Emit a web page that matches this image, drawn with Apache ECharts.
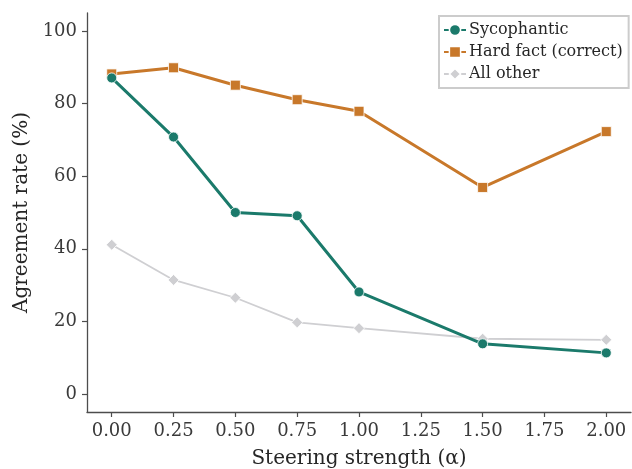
<!DOCTYPE html>
<html><head><meta charset="utf-8">
<script src="https://cdn.jsdelivr.net/npm/echarts@6/dist/echarts.min.js"></script>
<style>html,body{margin:0;padding:0;background:#fff}#c{width:632px;height:469px}</style>
</head><body><div id="c"></div>
<script>
const alphas = [0, 0.25, 0.5, 0.75, 1.0, 1.5, 2.0];
const sycophantic = [87.1, 70.8, 50.0, 49.1, 28.1, 13.8, 11.3];
const hardFact = [88.2, 89.9, 85.1, 81.1, 77.9, 56.9, 72.3];
const allOther = [41.1, 31.4, 26.5, 19.7, 18.1, 15.2, 14.9];
const xTicks = [0, 0.25, 0.5, 0.75, 1.0, 1.25, 1.5, 1.75, 2.0];
const yTicks = [0, 20, 40, 60, 80, 100];

const font = 'DejaVu Serif';
const pair = (ys) => alphas.map((a, i) => [a, ys[i]]);
const chart = echarts.init(document.getElementById('c'), null, {renderer: 'canvas'});
chart.setOption({
  animation: false,
  backgroundColor: '#fff',
  textStyle: {fontFamily: font},
  grid: {left: 87, right: 1, top: 13, bottom: 57, containLabel: false, outerBoundsMode: 'none'},
  xAxis: {
    type: 'value', min: -0.1, max: 2.1,
    name: 'Steering strength (α)', nameLocation: 'middle', nameGap: 37,
    nameTextStyle: {fontFamily: font, fontSize: 20, color: '#262626'},
    axisLine: {show: true, onZero: false, lineStyle: {color: '#4d4d4d', width: 1.3}},
    axisTick: {show: true, length: 5, customValues: xTicks, lineStyle: {color: '#4d4d4d', width: 1.2}},
    axisLabel: {customValues: xTicks, fontFamily: font, fontSize: 18, color: '#3a3a3a', margin: 10,
      formatter: v => v.toFixed(2)},
    splitLine: {show: false}
  },
  yAxis: {
    type: 'value', min: -5, max: 105,
    name: 'Agreement rate (%)', nameLocation: 'middle', nameGap: 55,
    nameTextStyle: {fontFamily: font, fontSize: 20, color: '#262626'},
    axisLine: {show: true, onZero: false, lineStyle: {color: '#4d4d4d', width: 1.3}},
    axisTick: {show: true, length: 5, customValues: yTicks, lineStyle: {color: '#4d4d4d', width: 1.2}},
    axisLabel: {customValues: yTicks, fontFamily: font, fontSize: 18, color: '#3a3a3a', margin: 10},
    splitLine: {show: false}
  },
  legend: {
    orient: 'vertical', left: 439, top: 16, width: 188,
    padding: [6, 6, 6, 4], itemGap: 6, itemWidth: 22, itemHeight: 14,
    borderColor: '#cccccc', borderWidth: 2, borderRadius: 0, backgroundColor: '#fff',
    textStyle: {fontFamily: font, fontSize: 16, color: '#262626', padding: [0, 0, 0, -2]},
    itemStyle: {borderColor: '#fff', borderWidth: 1.5},
    data: ['Sycophantic', 'Hard fact (correct)', 'All other']
  },
  series: [
    {name: 'All other', type: 'line', data: pair(allOther), z: 1,
      symbol: 'diamond', symbolSize: 11,
      lineStyle: {color: '#cfcfd2', width: 1.8},
      itemStyle: {color: '#cfcfd2', borderColor: '#fff', borderWidth: 0.8}},
    {name: 'Hard fact (correct)', type: 'line', data: pair(hardFact), z: 2,
      symbol: 'rect', symbolSize: 10,
      lineStyle: {color: '#c8782a', width: 3},
      itemStyle: {color: '#c8782a', borderColor: '#fff', borderWidth: 0.8}},
    {name: 'Sycophantic', type: 'line', data: pair(sycophantic), z: 3,
      symbol: 'circle', symbolSize: 10,
      lineStyle: {color: '#1b7a6b', width: 3},
      itemStyle: {color: '#1b7a6b', borderColor: '#fff', borderWidth: 0.8}}
  ]
});
</script></body></html>
